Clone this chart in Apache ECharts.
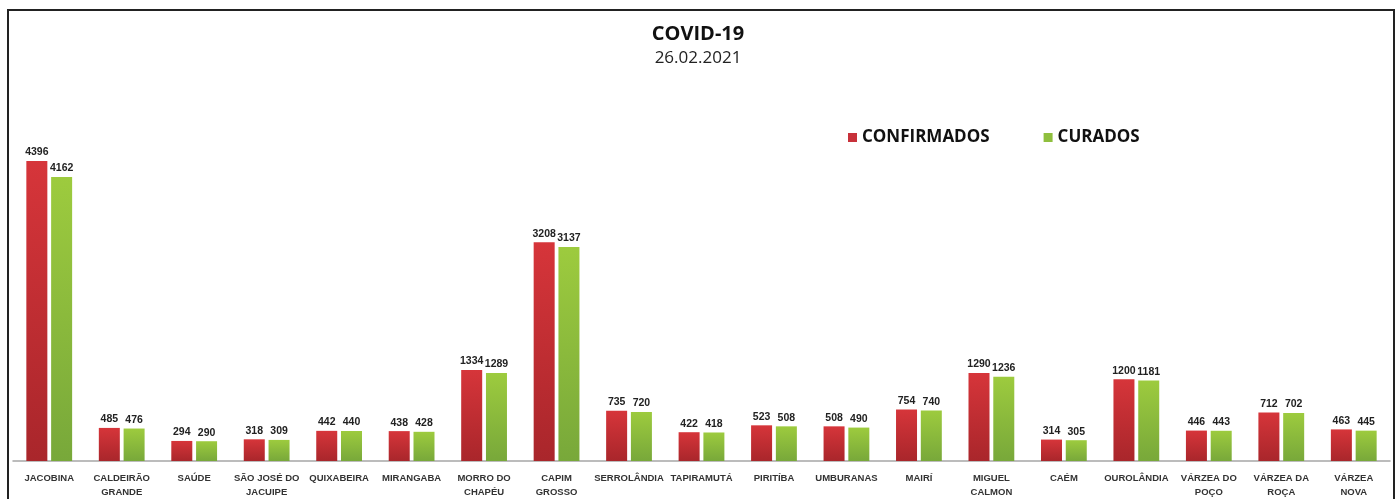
<!DOCTYPE html>
<html>
<head>
<meta charset="utf-8">
<script src="https://cdn.jsdelivr.net/npm/echarts@6/dist/echarts.min.js"></script>
<style>
html,body{margin:0;padding:0;background:#fff;}
#chart{width:1396px;height:499px;}
</style>
</head>
<body>
<div id="chart"></div>
<script>
const categories = ["JACOBINA", "CALDEIRÃO\nGRANDE", "SAÚDE", "SÃO JOSÉ DO\nJACUIPE", "QUIXABEIRA", "MIRANGABA", "MORRO DO\nCHAPÉU", "CAPIM\nGROSSO", "SERROLÂNDIA", "TAPIRAMUTÁ", "PIRITÍBA", "UMBURANAS", "MAIRÍ", "MIGUEL\nCALMON", "CAÉM", "OUROLÂNDIA", "VÁRZEA DO\nPOÇO", "VÁRZEA DA\nROÇA", "VÁRZEA\nNOVA"];
const confirmados = [4396, 485, 294, 318, 442, 438, 1334, 3208, 735, 422, 523, 508, 754, 1290, 314, 1200, 446, 712, 463];
const curados = [4162, 476, 290, 309, 440, 428, 1289, 3137, 720, 418, 508, 490, 740, 1236, 305, 1181, 443, 702, 445];

const chart = echarts.init(document.getElementById('chart'));
const redGrad = new echarts.graphic.LinearGradient(0, 0, 0, 1, [
  {offset: 0, color: '#d6353a'}, {offset: 1, color: '#a9262b'}]);
const greenGrad = new echarts.graphic.LinearGradient(0, 0, 0, 1, [
  {offset: 0, color: '#9dcb3e'}, {offset: 1, color: '#78a83a'}]);
const labelStyle = {show: true, position: 'top', distance: 3, fontFamily: 'Liberation Sans, Arial', fontWeight: 'bold', fontSize: 10.5, color: '#222'};
chart.setOption({
  animation: false,
  backgroundColor: '#fff',
  title: {
    text: 'COVID-19', subtext: '26.02.2021', left: 'center', top: 19, itemGap: 6,
    textStyle: {fontFamily: 'Open Sans', fontWeight: 'bold', fontSize: 20, color: '#111'},
    subtextStyle: {fontFamily: 'Open Sans', fontSize: 17, color: '#222'}
  },
  legend: {
    left: 843, top: 124, itemWidth: 9, itemHeight: 9, itemGap: 54, icon: 'rect',
    textStyle: {fontFamily: 'Open Sans', fontWeight: 'bold', fontSize: 17, color: '#111'},
    data: [{name: 'CONFIRMADOS', itemStyle: {color: '#c8313a'}}, {name: 'CURADOS', itemStyle: {color: '#8fbf3e'}}]
  },
  graphic: [{type: 'rect', shape: {x: 8, y: 10, width: 1386, height: 520}, style: {fill: 'none', stroke: '#222', lineWidth: 2}, silent: true}],
  grid: {left: 13, right: 6, top: 154, bottom: 36, containLabel: false},
  xAxis: {
    type: 'category', data: categories,
    axisLine: {lineStyle: {color: '#a6a6a6', width: 1.5}},
    axisTick: {show: false},
    axisLabel: {interval: 0, margin: 10, fontFamily: 'Liberation Sans, Arial', fontWeight: 'bold', fontSize: 9.5, color: '#333', lineHeight: 14}
  },
  yAxis: {type: 'value', min: 0, max: 4500, show: false, splitLine: {show: false}},
  series: [
    {name: 'CONFIRMADOS', type: 'bar', data: confirmados, barWidth: 21, barGap: '18%', itemStyle: {color: redGrad}, label: labelStyle},
    {name: 'CURADOS', type: 'bar', data: curados, barWidth: 21, itemStyle: {color: greenGrad}, label: labelStyle}
  ]
});
</script>
</body>
</html>
